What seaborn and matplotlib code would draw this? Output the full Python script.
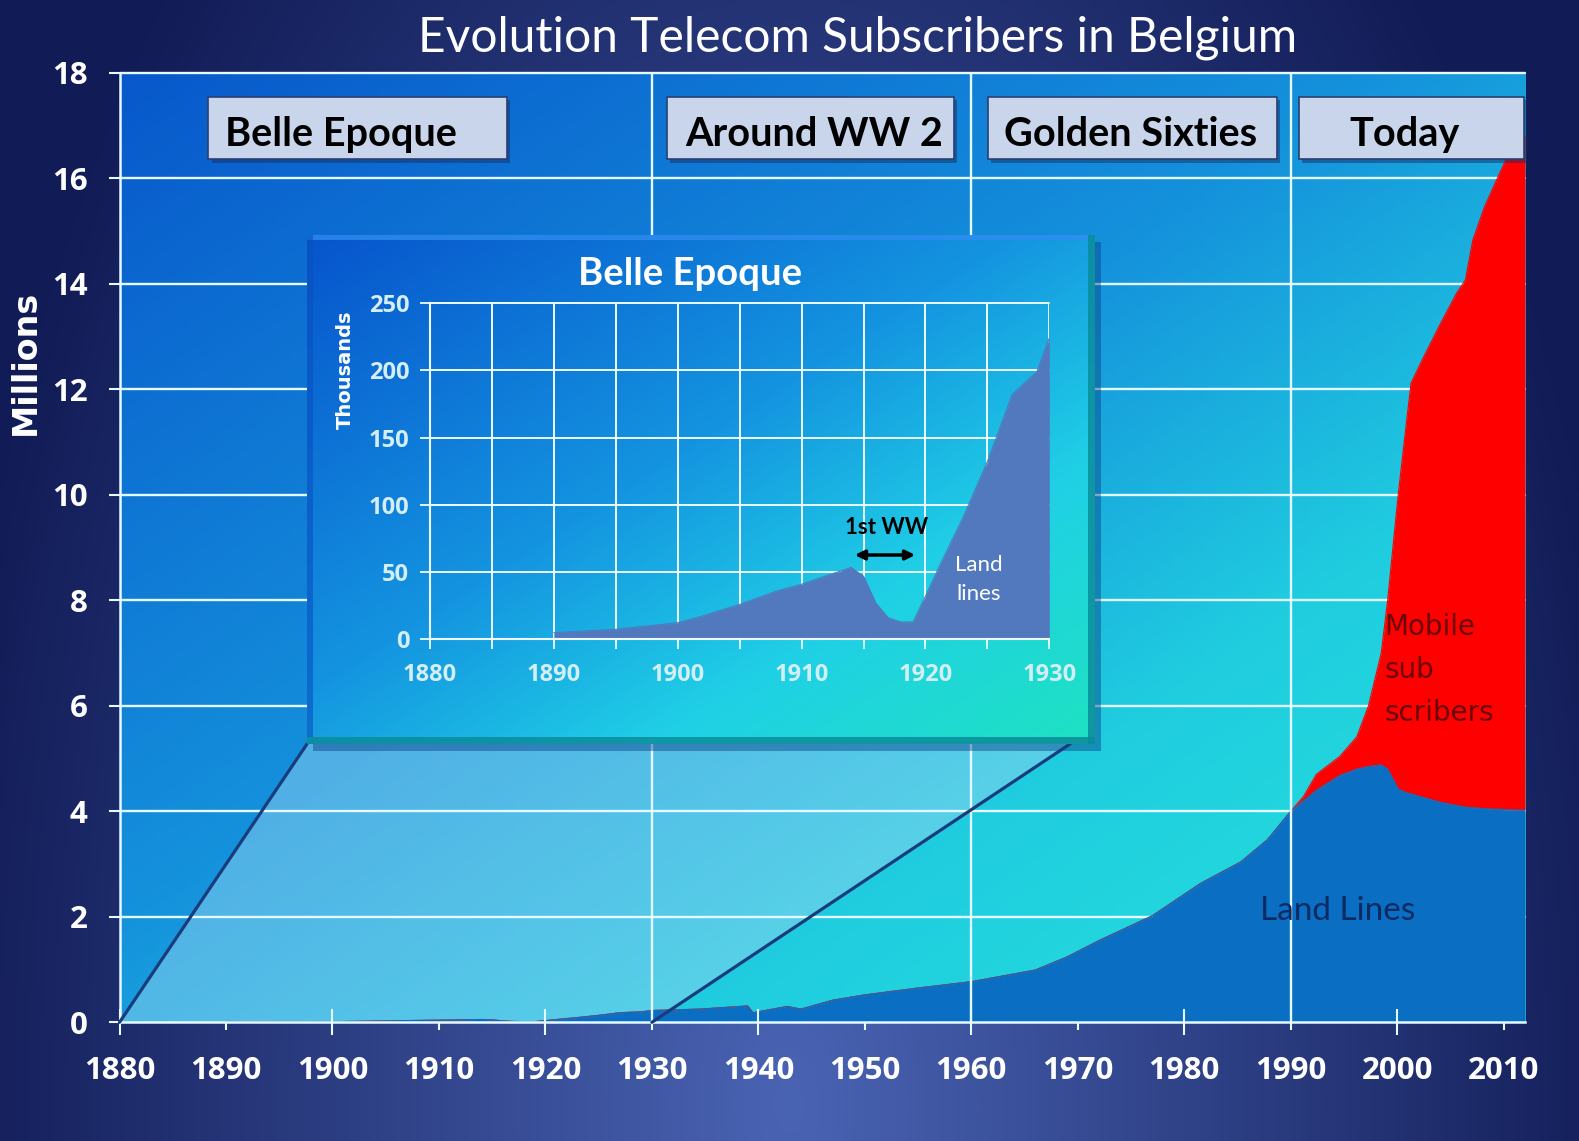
import numpy as np
import pandas as pd
import matplotlib
matplotlib.use("Agg")
import matplotlib.pyplot as plt
import seaborn as sns
from matplotlib.colors import to_rgb
from matplotlib.patches import Polygon, Rectangle, FancyArrowPatch

# ---------------- data ----------------
# Belle Epoque inset: land lines in thousands
inset_years = [1890, 1895, 1900, 1902, 1905, 1908, 1910, 1914, 1915, 1916,
               1917, 1918, 1919, 1920, 1921, 1923, 1925, 1927, 1929, 1930]
inset_land_k = [5, 7.5, 12.4, 17.4, 26, 36, 41, 53.5, 47, 27,
                16, 13, 13, 32, 52, 90, 132, 182, 199, 224]

# main chart after 1930: millions
main_years = [1934.5, 1939, 1939.5, 1940, 1942.7, 1944, 1947, 1950, 1955, 1960,
              1966, 1969, 1972, 1977, 1981.5, 1985.3, 1987.8, 1990, 1991.2, 1992.4,
              1994.6, 1996.2, 1997.3, 1998.5, 1999.1, 2000.1, 2000.9, 2001.3, 2002.5, 2004.1,
              2005.6, 2006.4, 2007.1, 2008.2, 2009.4, 2010.2, 2012]
land_m = [0.25, 0.31, 0.18, 0.2, 0.3, 0.25, 0.42, 0.52, 0.65, 0.77,
          0.99, 1.24, 1.55, 2.02, 2.63, 3.04, 3.46, 4.0, 4.2, 4.4,
          4.68, 4.8, 4.85, 4.88, 4.8, 4.42, 4.35, 4.33, 4.26, 4.17,
          4.11, 4.08, 4.07, 4.05, 4.04, 4.03, 4.02]
mobile_m = [0, 0, 0, 0, 0, 0, 0, 0, 0, 0,
            0, 0, 0, 0, 0, 0, 0, 0, 0.08, 0.3,
            0.36, 0.61, 1.15, 2.12, 3.2, 5.6, 7.08, 7.79, 8.36, 9.09,
            9.72, 9.99, 10.76, 11.41, 11.96, 12.32, 12.8]

eras = ["Belle Epoque", "Around WW 2", "Golden Sixties", "Today"]
era_bounds = [1930, 1960, 1990]
year_ticks = list(range(1880, 2011, 10))
million_ticks = list(range(0, 19, 2))
inset_year_ticks = list(range(1880, 1931, 10))
inset_minor_ticks = list(range(1885, 1931, 10))
inset_k_ticks = list(range(0, 251, 50))

df = pd.DataFrame({
    "year": inset_years + main_years,
    "land": [v / 1000 for v in inset_land_k] + land_m,
    "mobile": [0] * len(inset_years) + mobile_m,
})
df["total"] = df["land"] + df["mobile"]
ins_df = pd.DataFrame({"year": inset_years, "land_k": inset_land_k})

# ---------------- style ----------------
sns.set_theme(style="white")
plt.rcParams['font.family'] = ['Lato', 'DejaVu Sans']

W, H = 1579, 1141
fig = plt.figure(figsize=(W / 100, H / 100), dpi=100)


def fx(px):
    return px / W


def fy(py):
    return 1 - py / H


def diag_gradient(stops, h=200, w=300):
    yy, xx = np.mgrid[0:1:complex(0, h), 0:1:complex(0, w)]
    t = (xx + yy) / 2.0  # row 0 is top
    pos = np.array([s[0] for s in stops])
    cols = np.array([to_rgb(s[1]) for s in stops])
    img = np.zeros((h, w, 3))
    for c in range(3):
        img[..., c] = np.interp(t, pos, cols[:, c])
    return img


# figure background
bg = fig.add_axes([0, 0, 1, 1], zorder=-10)
yy, xx = np.mgrid[0:1:300j, 0:1:420j]
d = np.sqrt(((xx - 0.5) / 0.55) ** 2 + (((1 - yy) - 0.03) / 1.45) ** 2)
d = np.clip(d, 0, 1)[..., None]
bgimg = np.array(to_rgb('#4a64b4')) * (1 - d) + np.array(to_rgb('#111b55')) * d
bg.imshow(bgimg, extent=[0, 1, 0, 1], aspect='auto', origin='upper')
bg.axis('off')

# ---------------- main axes ----------------
ax = fig.add_axes([fx(119.5), fy(1022.3), fx(1525) - fx(119.5), fy(72.8) - fy(1022.3)], zorder=1)
ax.imshow(diag_gradient([(0, '#0858cb'), (0.45, '#1592dc'), (0.7, '#20cde0'), (0.85, '#22d8dc'),
                         (1.0, '#22dccf')]),
          extent=[0, 1, 0, 1], transform=ax.transAxes, aspect='auto', zorder=0.1)
ax.set_xlim(1880, 2012)
ax.set_ylim(0, 18)
ax.grid(False)
ax.set_axisbelow(False)

land_col = '#0a6ec3'
ax.fill_between(df["year"], 0, df["land"], color=land_col, lw=0, zorder=2)
ax.fill_between(df["year"], df["land"], df["total"], color='#ff0000', lw=0, zorder=2)
sns.lineplot(data=df, x="year", y="land", ax=ax, color=land_col, lw=0.8, zorder=2.1)
sns.lineplot(data=df, x="year", y="total", ax=ax, color='#ff0000', lw=0.8, zorder=2.05)
ax.set_xlim(1880, 2012)
ax.set_ylim(0, 18)
ax.set_xlabel("")
ax.set_ylabel("")

for v in million_ticks[1:]:
    ax.axhline(v, color='#e4fbff', lw=1.7, zorder=1, clip_on=False)
for xv in era_bounds:
    ax.axvline(xv, color='#e4fbff', lw=1.7, zorder=3)

for s in ['top', 'right']:
    ax.spines[s].set_visible(False)
for s in ['left', 'bottom']:
    ax.spines[s].set_color('#e4fbff')
    ax.spines[s].set_linewidth(1.8)
    ax.spines[s].set_zorder(3)

ax.set_yticks(million_ticks)
ax.set_yticklabels([str(v) for v in million_ticks])
ax.set_xticks(year_ticks[::2])
ax.set_xticklabels([str(v) for v in year_ticks[::2]])
ax.set_xticks(year_ticks[1::2], minor=True)
ax.set_xticklabels([str(v) for v in year_ticks[1::2]], minor=True)
ax.tick_params(axis='y', which='major', direction='out', length=8, width=1.5, color='#e4fbff',
               pad=15, labelsize=22.5, labelcolor='white', left=True)
ax.tick_params(axis='x', which='major', direction='inout', length=19, width=1.5, color='#e4fbff',
               pad=15, labelsize=22.5, labelcolor='white', bottom=True)
ax.tick_params(axis='x', which='minor', direction='out', length=6, width=1.5, color='#e4fbff',
               pad=18.5, labelsize=22.5, labelcolor='white', bottom=True)
for lab in ax.get_xticklabels(which='both') + ax.get_yticklabels():
    lab.set_fontfamily('Open Sans')
    lab.set_fontweight('bold')


def px_to_data(axx, px, py):
    disp = fig.transFigure.transform((fx(px), fy(py)))
    return axx.transData.inverted().transform(disp)


# zoom trapezoid
BL = px_to_data(ax, 307, 744)
BR = px_to_data(ax, 1070, 744)
ax.add_patch(Polygon([(inset_year_ticks[0], 0), (inset_year_ticks[-1], 0), tuple(BR), tuple(BL)],
                     closed=True, fc='#9ad8f2', ec='none', alpha=0.45, zorder=0.5))
ax.plot([inset_year_ticks[0], BL[0]], [0, BL[1]], color='#1b3c7c', lw=2.3, zorder=3.2, clip_on=False)
ax.plot([inset_year_ticks[-1], BR[0]], [0, BR[1]], color='#1b3c7c', lw=2.3, zorder=3.2, clip_on=False)

# texts on main chart
fig.text(fx(858), fy(51), "Evolution Telecom Subscribers in Belgium", ha='center', va='baseline',
         color='white', fontsize=34.5, family=['Lato', 'DejaVu Sans'])
fig.text(fx(25), fy(362), "Millions", ha='center', va='center', rotation=90, color='white',
         fontsize=24, fontweight='bold', family=['DejaVu Sans'])
fig.text(fx(1338), fy(911), "Land Lines", ha='center', va='center', color='#0d2a62', fontsize=24,
         family=['Lato', 'DejaVu Sans'], zorder=5)
for i, w in enumerate(["Mobile", "sub", "scribers"]):
    fig.text(fx(1384), fy(627 + 43 * i), w, ha='left', va='center', color='#680808', fontsize=20,
             family=['DejaVu Sans'], zorder=5)

# era boxes
boxes = [(208.5, 506.5, 224.6, 'left'), (666.6, 953.6, 684.8, 'left'),
         (987.9, 1276.9, 1004, 'left'), (1299, 1523.6, 1404.8, 'center')]
for name, (x0, x1, tx, ha) in zip(eras, boxes):
    fig.patches.append(Rectangle((fx(x0) + 0.002, fy(159.1) - 0.003), fx(x1) - fx(x0), fy(96.7) - fy(159.1),
                                 transform=fig.transFigure, fc='#16306a', ec='none', alpha=0.5, zorder=4))
    fig.patches.append(Rectangle((fx(x0), fy(159.1)), fx(x1) - fx(x0), fy(96.7) - fy(159.1),
                                 transform=fig.transFigure, fc='#c9d5ea', ec='#2a3f70', lw=1.2, zorder=4.1))
    fig.text(fx(tx), fy(146), name, ha=ha, va='baseline', color='black', fontsize=28.5,
             fontweight='bold', family=['Lato', 'DejaVu Sans'], zorder=4.2)

# ---------------- inset panel ----------------
px0, px1, py0, py1 = 307, 1095, 235, 744
fig.patches.append(Rectangle((fx(px0) + 0.004, fy(py1) - 0.006), fx(px1) - fx(px0), fy(py0) - fy(py1),
                             transform=fig.transFigure, fc='#0c3f86', ec='none', alpha=0.45, zorder=1.5))
pan = fig.add_axes([fx(px0), fy(py1), fx(px1) - fx(px0), fy(py0) - fy(py1)], zorder=2)
pan.imshow(diag_gradient([(0, '#0754cc'), (0.45, '#1494e0'), (0.72, '#20d0e6'), (1.0, '#1ee2c2')]),
           extent=[0, 1, 0, 1], aspect='auto')
pan.set_xlim(0, 1)
pan.set_ylim(0, 1)
sx = 7 / (px1 - px0)
sy = 7 / (py1 - py0)
pan.add_patch(Rectangle((1 - sx, 0), sx, 1, transform=pan.transAxes, fc='#0a8c9a', ec='none', alpha=0.85))
pan.add_patch(Rectangle((0, 0), 1, sy, transform=pan.transAxes, fc='#0a8c9a', ec='none', alpha=0.85))
pan.add_patch(Rectangle((0, 1 - sy * 0.7), 1 - sx, sy * 0.7, transform=pan.transAxes, fc='#2f8df0',
                        ec='none', alpha=0.8))
pan.add_patch(Rectangle((0, sy), sx * 0.8, 1 - sy, transform=pan.transAxes, fc='#0850c0',
                        ec='none', alpha=0.6))
pan.axis('off')

ins = fig.add_axes([fx(430), fy(639.4), fx(1049.3) - fx(430), fy(303) - fy(639.4)], zorder=3)
ins.set_facecolor('none')
ins.grid(False)
ins.set_axisbelow(False)
ins_col = '#5279bd'
ins.fill_between(ins_df["year"], 0, ins_df["land_k"], color=ins_col, lw=0, zorder=2)
sns.lineplot(data=ins_df, x="year", y="land_k", ax=ins, color=ins_col, lw=0.8, zorder=2.1)
ins.set_xlim(inset_year_ticks[0], inset_year_ticks[-1])
ins.set_ylim(inset_k_ticks[0], inset_k_ticks[-1])
ins.set_xlabel("")
ins.set_ylabel("")
for xv in sorted(inset_year_ticks[1:] + inset_minor_ticks):
    ins.axvline(xv, color='#eefcff', lw=1.4, zorder=1)
for v in inset_k_ticks[1:]:
    ins.axhline(v, color='#eefcff', lw=1.4, zorder=1, clip_on=False)
for s in ['top', 'right']:
    ins.spines[s].set_visible(False)
for s in ['left', 'bottom']:
    ins.spines[s].set_color('#eefcff')
    ins.spines[s].set_linewidth(1.5)
ins.set_xticks(inset_year_ticks)
ins.set_xticklabels([str(v) for v in inset_year_ticks])
ins.set_xticks(inset_minor_ticks, minor=True)
ins.set_yticks(inset_k_ticks)
ins.set_yticklabels([str(v) for v in inset_k_ticks])
ins.tick_params(axis='x', which='both', direction='out', length=7, width=1.3, color='#eefcff',
                pad=10, labelsize=17, labelcolor='#d4eef6', bottom=True)
ins.tick_params(axis='y', which='major', direction='out', length=7, width=1.3, color='#eefcff',
                pad=8, labelsize=17, labelcolor='#d4eef6', left=True)
for lab in ins.get_xticklabels() + ins.get_yticklabels():
    lab.set_fontfamily('Open Sans')
    lab.set_fontweight('bold')

fig.text(fx(690), fy(274), "Belle Epoque", ha='center', va='center', color='white', fontsize=27.5,
         fontweight='bold', family=['Lato', 'DejaVu Sans'], zorder=6)
fig.text(fx(345), fy(370), "Thousands", ha='center', va='center', rotation=90, color='white',
         fontsize=14, fontweight='bold', family=['DejaVu Sans'], zorder=6)
fig.text(fx(887), fy(528), "1st WW", ha='center', va='center', color='black', fontsize=16,
         fontweight='bold', family=['Lato', 'DejaVu Sans'], zorder=6)
fig.text(fx(979), fy(565), "Land", ha='center', va='center', color='white', fontsize=16,
         family=['Lato', 'DejaVu Sans'], zorder=6)
fig.text(fx(979), fy(594), "lines", ha='center', va='center', color='white', fontsize=16,
         family=['Lato', 'DejaVu Sans'], zorder=6)
fig.patches.append(FancyArrowPatch((fx(852), fy(555)), (fx(918), fy(555)), transform=fig.transFigure,
                                   arrowstyle='<|-|>', mutation_scale=14, color='black', lw=2.5, zorder=6))

fig.savefig("out.png", dpi=100)
